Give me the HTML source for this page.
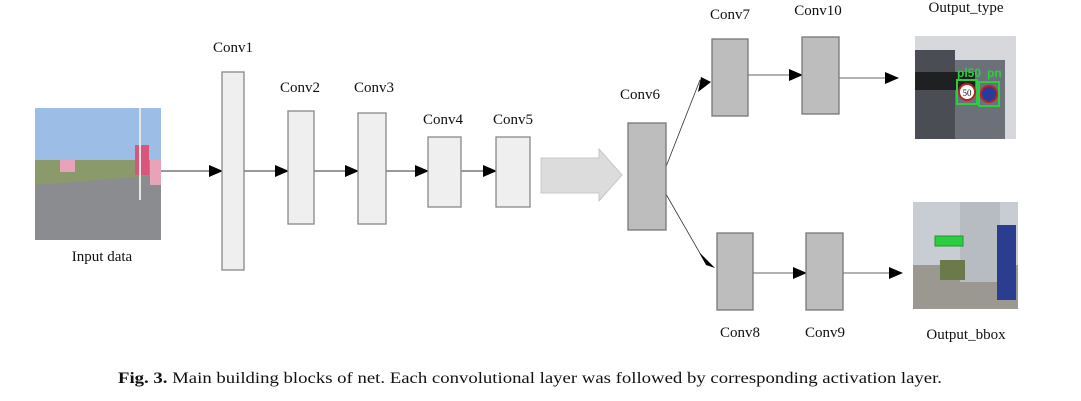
<!DOCTYPE html>
<html><head><meta charset="utf-8"><style>
html,body{margin:0;padding:0;background:#fff;}
svg{display:block;}
text{font-family:"Liberation Serif",serif;fill:#111;}
</style></head><body>
<svg width="1081" height="401" viewBox="0 0 1081 401">
<defs>
<marker id="b" markerWidth="14" markerHeight="12" refX="13" refY="6" orient="auto" markerUnits="userSpaceOnUse"><path d="M0,0 L14,6 L0,12 z" fill="#000"/></marker>
</defs>
<rect x="35" y="108" width="126" height="132" fill="#9cbde6"/>
<rect x="35" y="160" width="126" height="25" fill="#8a9a6a"/>
<polygon points="35,185 161,175 161,240 35,240" fill="#8a8c90"/>
<rect x="135" y="145" width="14" height="30" fill="#d9557a"/>
<rect x="150" y="160" width="11" height="25" fill="#e7a3b8"/>
<rect x="60" y="160" width="15" height="12" fill="#e7a3b8"/>
<line x1="140" y1="108" x2="140" y2="200" stroke="#e6e6e6" stroke-width="2"/>
<text x="102" y="261" font-size="15" text-anchor="middle">Input data</text>
<line x1="161" y1="171" x2="222" y2="171" stroke="#333" marker-end="url(#b)"/>
<line x1="244" y1="171" x2="288" y2="171" stroke="#333" marker-end="url(#b)"/>
<line x1="314" y1="171" x2="358" y2="171" stroke="#333" marker-end="url(#b)"/>
<line x1="386" y1="171" x2="428" y2="171" stroke="#333" marker-end="url(#b)"/>
<line x1="461" y1="171" x2="496" y2="171" stroke="#333" marker-end="url(#b)"/>
<g fill="#efefef" stroke="#888" stroke-width="1.3">
<rect x="222" y="72" width="22" height="198"/>
<rect x="288" y="111" width="26" height="113"/>
<rect x="358" y="113" width="28" height="111"/>
<rect x="428" y="137" width="33" height="70"/>
<rect x="496" y="137" width="34" height="70"/>
</g>
<g font-size="15" text-anchor="middle">
<text x="233" y="52">Conv1</text>
<text x="300" y="92">Conv2</text>
<text x="374" y="92">Conv3</text>
<text x="443" y="124">Conv4</text>
<text x="513" y="124">Conv5</text>
<text x="640" y="99">Conv6</text>
<text x="730" y="19">Conv7</text>
<text x="818" y="15">Conv10</text>
<text x="740" y="337">Conv8</text>
<text x="825" y="337">Conv9</text>
<text x="966" y="12">Output_type</text>
<text x="966" y="339">Output_bbox</text>
</g>
<polygon points="541,158 599,158 599,149 622,175 599,201 599,193 541,193" fill="#dcdcdc" stroke="#c8c8c8"/>
<line x1="660" y1="182" x2="700" y2="80" stroke="#333" stroke-width="0.8"/>
<path d="M701,77 L711,82 L698,92 z" fill="#000"/>
<line x1="659" y1="182" x2="705" y2="262" stroke="#333" stroke-width="0.8"/>
<path d="M706,265 L699,252 L715,268 z" fill="#000"/>
<line x1="748" y1="75" x2="802" y2="75" stroke="#333" stroke-width="0.8" marker-end="url(#b)"/>
<line x1="839" y1="78" x2="898" y2="78" stroke="#333" stroke-width="0.8" marker-end="url(#b)"/>
<line x1="740" y1="273" x2="806" y2="273" stroke="#333" stroke-width="0.8" marker-end="url(#b)"/>
<line x1="843" y1="273" x2="902" y2="273" stroke="#333" stroke-width="0.8" marker-end="url(#b)"/>
<g fill="#bdbdbd" stroke="#777" stroke-width="1.3">
<rect x="628" y="123" width="38" height="107"/>
<rect x="712" y="39" width="36" height="77"/>
<rect x="802" y="37" width="37" height="77"/>
<rect x="717" y="233" width="36" height="77"/>
<rect x="806" y="233" width="37" height="77"/>
</g>
<rect x="915" y="36" width="101" height="103" fill="#d6d8dc"/>
<rect x="915" y="50" width="40" height="89" fill="#4a4e54"/>
<rect x="955" y="60" width="50" height="79" fill="#6c7078"/>
<rect x="915" y="72" width="60" height="18" fill="#1e2022"/>
<rect x="957" y="80" width="20" height="24" fill="none" stroke="#2ecc40" stroke-width="2"/>
<circle cx="967" cy="92" r="8" fill="#fff" stroke="#b22" stroke-width="2"/>
<text x="967" y="96" font-size="9" text-anchor="middle" font-family="Liberation Sans">50</text>
<rect x="979" y="82" width="20" height="24" fill="none" stroke="#2ecc40" stroke-width="2"/>
<circle cx="989" cy="94" r="8" fill="#2a3a9a" stroke="#b22" stroke-width="2"/>
<text x="957" y="77" font-size="12" style="fill:#2ecc40;font-weight:bold;font-family:'Liberation Sans'">pl50</text>
<text x="987" y="77" font-size="12" style="fill:#2ecc40;font-weight:bold;font-family:'Liberation Sans'">pn</text>
<rect x="913" y="202" width="105" height="107" fill="#c8cdd4"/>
<rect x="913" y="265" width="105" height="44" fill="#9a9890"/>
<rect x="960" y="202" width="40" height="80" fill="#b7bcc2"/>
<rect x="997" y="225" width="19" height="75" fill="#2a3d8f"/>
<rect x="940" y="260" width="25" height="20" fill="#6b7a4a"/>
<rect x="935" y="236" width="28" height="10" fill="#2ecc40" stroke="#1a9a2a"/>
<text x="118" y="383" font-size="16" textLength="824" lengthAdjust="spacingAndGlyphs"><tspan font-weight="bold">Fig. 3.</tspan>  Main building blocks of net. Each convolutional layer was followed by corresponding activation layer.</text>
</svg>
</body></html>
